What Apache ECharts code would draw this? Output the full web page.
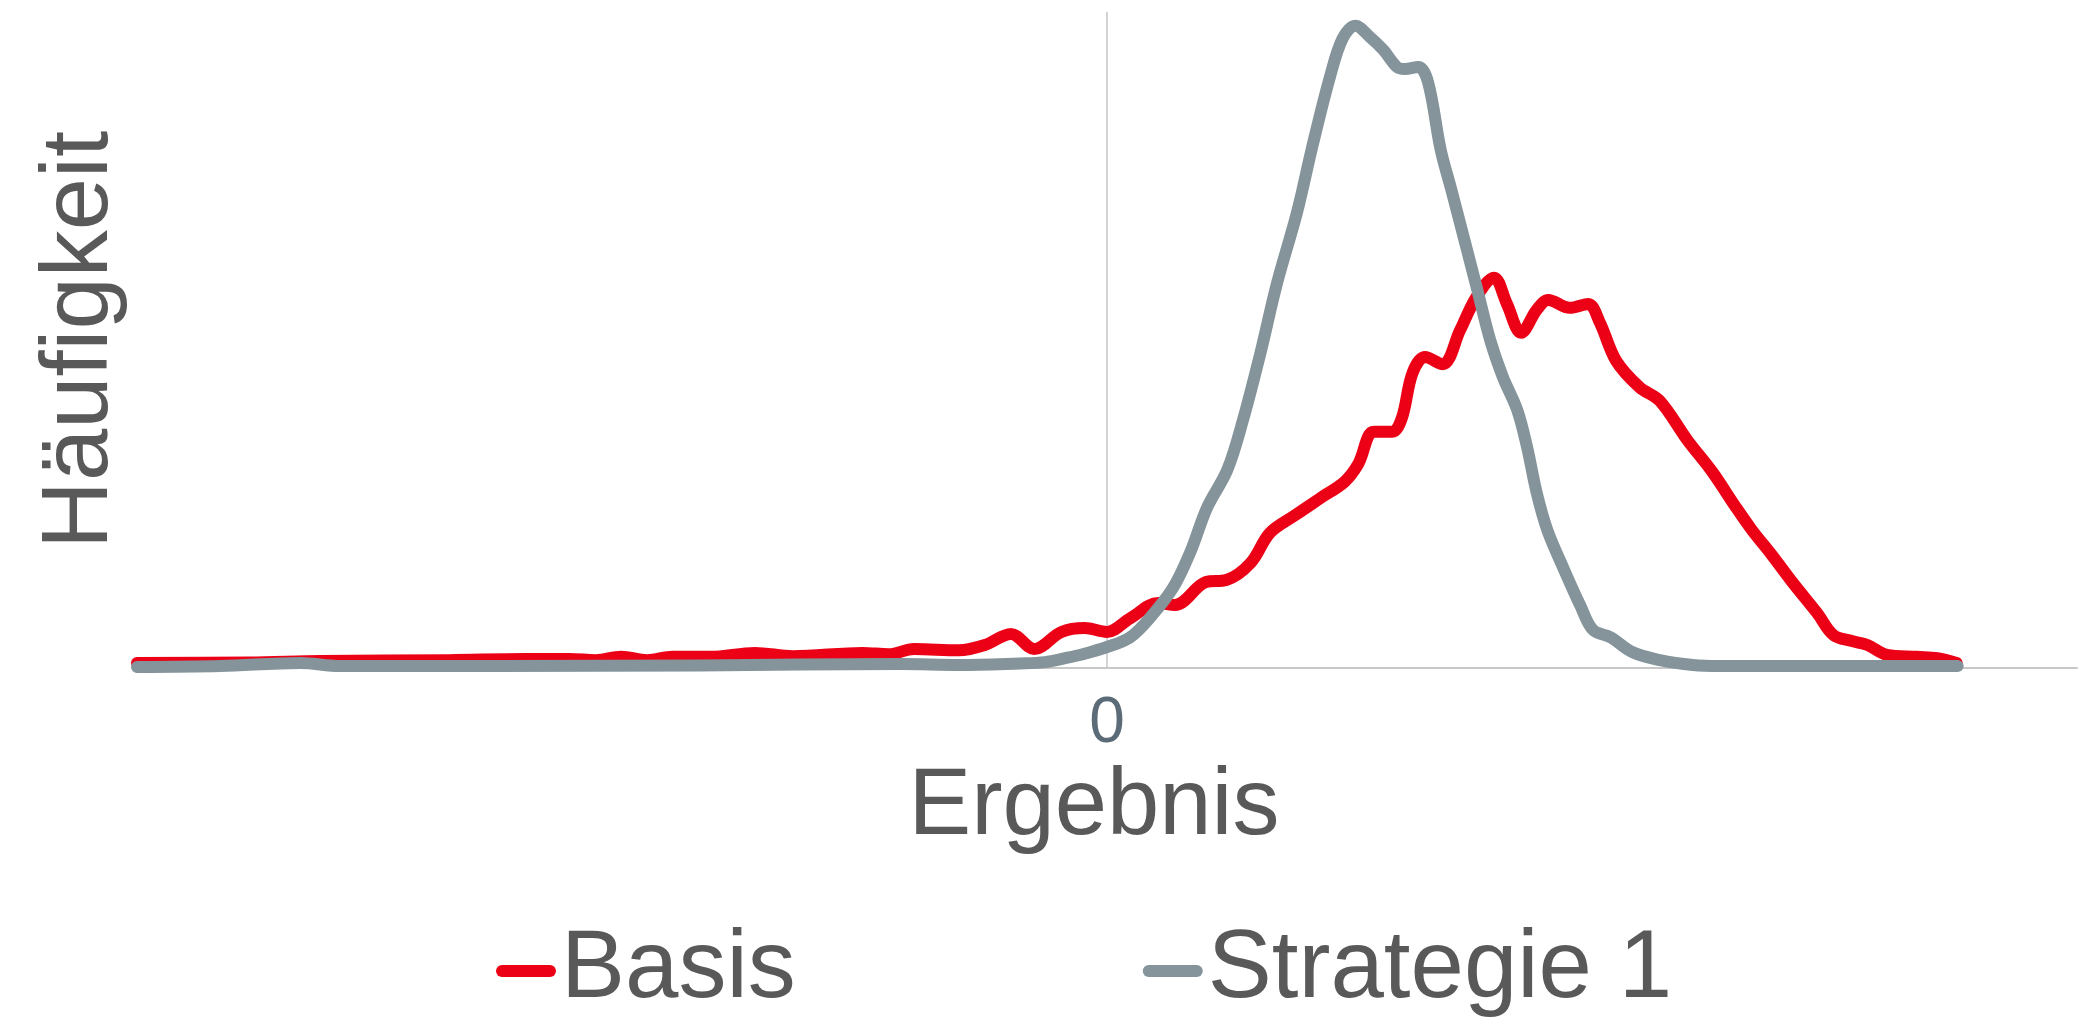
<!DOCTYPE html>
<html>
<head>
<meta charset="utf-8">
<script src="https://cdn.jsdelivr.net/npm/echarts@6/dist/echarts.min.js"></script>
<style>
html,body{margin:0;padding:0;background:#fff;}
#chart{width:2089px;height:1017px;}
</style>
</head>
<body>
<div id="chart"></div>
<script>
// ---- data ----
const seriesNames = ['Basis', 'Strategie 1'];
const xTickLabels = ['0'];

const basisX = [-100, -88.4, -81.0, -67.8, -60.0, -55.4, -52.7, -50.1, -47.4, -44.8, -40.9, -36.3, -32.4, -25.2, -22.5, -19.9, -15.3, -12.6, -9.9, -7.5, -4.7, -2.3, 0, 2.4, 5.3, 7.0, 10.2, 12.3, 14.8, 16.8, 19.4, 22.0, 24.5, 25.9, 27.5, 29.4, 30.4, 31.5, 32.8, 34.6, 36.4, 38.1, 39.9, 41.2, 42.7, 44.3, 45.5, 47.7, 49.6, 50.8, 52.5, 54.9, 57.0, 59.8, 62.4, 64.7, 66.5, 68.4, 70.7, 73.2, 74.9, 76.8, 78.4, 80.4, 83.5, 85.6, 87.6];
const basisY = [0.76, 0.84, 1.07, 1.2, 1.37, 1.37, 1.2, 1.7, 1.2, 1.7, 1.7, 2.3, 1.8, 2.3, 2.1, 2.9, 2.7, 3.5, 5.2, 2.9, 5.5, 6.1, 5.5, 7.6, 9.9, 9.6, 13.1, 13.4, 16.0, 20.6, 23.3, 25.9, 28.4, 31.1, 36.0, 36.0, 38.1, 45.0, 47.4, 46.3, 51.5, 56.6, 59.5, 55.6, 51.1, 54.6, 56.1, 54.9, 55.5, 52.7, 46.8, 42.8, 40.7, 34.8, 29.9, 24.8, 21.0, 17.5, 13.0, 8.4, 5.0, 4.1, 3.5, 2.0, 1.7, 1.5, 0.76];

const strategieX = [-100, -91.4, -83.2, -79.1, -62.6, -42.0, -21.3, -15.2, -9.0, -6.4, -4.3, -2.5, 0, 2.4, 4.4, 6.8, 8.6, 10.3, 12.4, 14.0, 15.8, 17.5, 19.6, 21.2, 23.0, 24.3, 25.6, 27.1, 28.5, 29.9, 30.7, 32.1, 33.1, 34.4, 35.5, 36.8, 38.2, 39.5, 40.8, 42.3, 43.3, 44.3, 45.4, 47.0, 48.8, 50.1, 51.9, 54.2, 57.0, 60.4, 63.2, 87.7];
const strategieY = [0.15, 0.3, 0.76, 0.3, 0.3, 0.4, 0.6, 0.45, 0.7, 0.9, 1.5, 2.1, 3.2, 4.7, 7.6, 12.2, 17.7, 24.4, 30.2, 37.7, 47.9, 58.5, 69.5, 79.7, 90.2, 96.0, 97.9, 96.2, 94.2, 91.6, 91.3, 91.6, 89.3, 79.0, 72.9, 65.5, 57.5, 50.0, 44.4, 39.3, 33.7, 26.7, 21.0, 15.4, 9.5, 5.8, 4.7, 2.4, 1.2, 0.45, 0.3, 0.3];

const pairs = (xs, ys) => xs.map((x, i) => [x, ys[i]]);

const TEXT = '#595959';
const RED = '#EC0016';
const GRAY = '#84949A';
const FONT = '"Liberation Sans", Arial, sans-serif';

const chart = echarts.init(document.getElementById('chart'), null, {renderer: 'canvas'});
chart.setOption({
  animation: false,
  backgroundColor: '#ffffff',
  textStyle: {fontFamily: FONT},
  grid: {left: 137, right: 12, top: 12, bottom: 349, containLabel: false},
  legend: {
    data: seriesNames,
    left: 491,
    top: 918,
    itemWidth: 60,
    itemHeight: 12,
    itemGap: 347,
    icon: 'path://M6,0 H54 A6,6 0 0 1 54,12 H6 A6,6 0 0 1 6,0 Z',
    textStyle: {color: TEXT, fontSize: 96, fontFamily: FONT}
  },
  xAxis: {
    type: 'value',
    min: -100,
    max: 100,
    interval: 100,
    name: 'Ergebnis',
    nameLocation: 'middle',
    nameGap: 86,
    nameTextStyle: {color: TEXT, fontSize: 94, fontFamily: FONT, padding: [0, 26, 0, 0]},
    axisLine: {show: true, onZero: false, lineStyle: {color: '#C8C8C8', width: 2}},
    axisTick: {show: false},
    splitLine: {show: false},
    axisLabel: {
      show: true,
      margin: 24,
      color: '#5B6B77',
      fontSize: 64,
      fontFamily: FONT,
      formatter: v => (v === 0 ? xTickLabels[0] : '')
    }
  },
  yAxis: {
    type: 'value',
    min: 0,
    max: 100,
    name: 'Häufigkeit',
    nameLocation: 'middle',
    nameRotate: 90,
    nameGap: 9,
    nameTextStyle: {color: TEXT, fontSize: 94, fontFamily: FONT},
    axisLine: {show: false, onZero: false},
    axisTick: {show: false},
    axisLabel: {show: false},
    splitLine: {show: false}
  },
  series: [
    {
      name: seriesNames[0],
      type: 'line',
      data: pairs(basisX, basisY),
      smooth: 0.35,
      showSymbol: false,
      symbol: 'none',
      lineStyle: {color: RED, width: 12, cap: 'round', join: 'round'},
      itemStyle: {color: RED},
      z: 2,
      markLine: {
        silent: true,
        symbol: ['none', 'none'],
        label: {show: false},
        lineStyle: {color: '#C4C4C4', width: 1.5, type: 'solid'},
        data: [{xAxis: 0}],
        z: 1
      }
    },
    {
      name: seriesNames[1],
      type: 'line',
      data: pairs(strategieX, strategieY),
      smooth: 0.35,
      showSymbol: false,
      symbol: 'none',
      lineStyle: {color: GRAY, width: 12, cap: 'round', join: 'round'},
      itemStyle: {color: GRAY},
      z: 3
    }
  ]
});
</script>
</body>
</html>
